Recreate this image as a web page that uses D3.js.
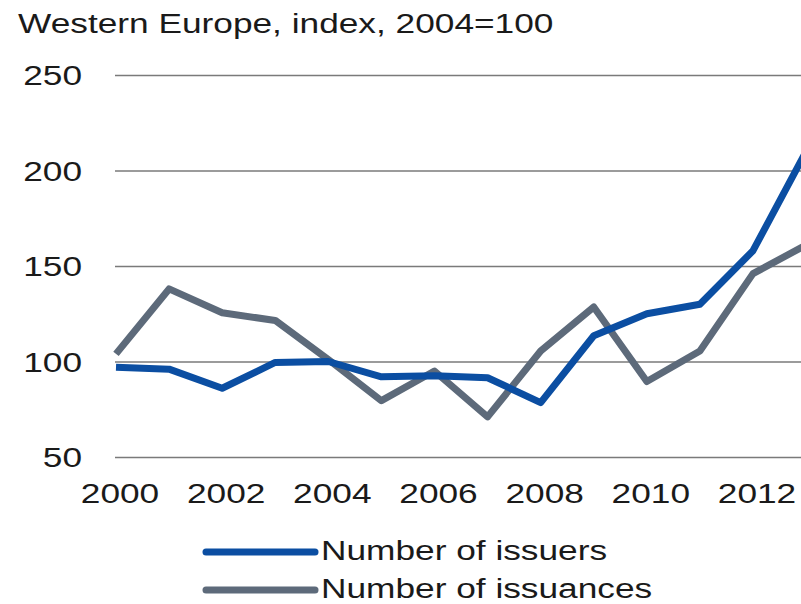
<!DOCTYPE html>
<html>
<head>
<meta charset="utf-8">
<script src="https://cdn.jsdelivr.net/npm/d3@7/dist/d3.min.js"></script>
<style>
  html, body { margin: 0; padding: 0; background: #fff; }
  svg { display: block; }
  text { font-family: "Liberation Sans", Arial, sans-serif; fill: #1a1a1a; }
</style>
</head>
<body>
<div id="chart"></div>
<script>
// Western Europe bond market activity, index 2004 = 100
const years = [2000, 2001, 2002, 2003, 2004, 2005, 2006, 2007, 2008, 2009, 2010, 2011, 2012, 2013];
const issuers   = [97, 96, 86, 99.5, 100, 92, 92.5, 91.5, 78.5, 113.5, 125, 130, 158, 210];
const issuances = [104, 138, 125.5, 121.5, 101, 79.5, 95, 71, 105.5, 128.5, 89.5, 105.5, 146, 161];
const yTicks = [50, 100, 150, 200, 250];
const xTicks = [2000, 2002, 2004, 2006, 2008, 2010, 2012];
const seriesNames = ["Number of issuers", "Number of issuances"];
const seriesColors = ["#0b4ea2", "#5d6a7a"];

const W = 801, H = 604;
const sx = 1.26;   // horizontal text stretch
const fontSize = 28;

const svg = d3.select("#chart").append("svg")
  .attr("width", W).attr("height", H);

const x = d3.scaleLinear().domain([2000, 2012]).range([116, 753]);
const y = d3.scaleLinear().domain([50, 250]).range([457, 75]);

function stretchedText(g, tx, ty, str, anchor) {
  return g.append("text")
    .attr("transform", `translate(${tx},${ty}) scale(${sx},1)`)
    .attr("text-anchor", anchor || "start")
    .attr("font-size", fontSize)
    .text(str);
}

// title
stretchedText(svg, 18, 33, "Western Europe, index, 2004=100");

// horizontal gridlines via the y axis
const yAxis = d3.axisLeft(y).tickValues(yTicks).tickSize(-(W - 115)).tickFormat("");
const gy = svg.append("g").attr("transform", "translate(115,0)").call(yAxis);
gy.select(".domain").remove();
gy.selectAll(".tick line").attr("stroke", "#7a7a7a").attr("stroke-width", 1.5);

// y tick labels
yTicks.forEach(v => {
  stretchedText(svg, 82, y(v) + 10, String(v), "end");
});

// x tick labels
const xAxis = d3.axisBottom(x).tickValues(xTicks).tickSize(0).tickFormat(d3.format("d"));
const gx = svg.append("g").attr("transform", "translate(0,457)").call(xAxis);
gx.select(".domain").remove();
gx.selectAll(".tick text").remove();
xTicks.forEach(v => {
  stretchedText(svg, x(v) + 4, 503, String(v), "middle");
});

// lines
const line = d3.line().x((d, i) => x(years[i])).y(d => y(d));
[issuances, issuers].forEach((vals, k) => {
  const idx = k === 0 ? 1 : 0;
  svg.append("path")
    .datum(vals)
    .attr("fill", "none")
    .attr("stroke", seriesColors[idx])
    .attr("stroke-width", 7)
    .attr("stroke-linejoin", "round")
    .attr("d", line);
});

// legend
const legendY = [552, 590];
seriesNames.forEach((name, i) => {
  svg.append("line")
    .attr("x1", 206).attr("x2", 315)
    .attr("y1", legendY[i]).attr("y2", legendY[i])
    .attr("stroke", seriesColors[i])
    .attr("stroke-width", 7)
    .attr("stroke-linecap", "round");
  stretchedText(svg, 321, legendY[i] + 8, name);
});
</script>
</body>
</html>
